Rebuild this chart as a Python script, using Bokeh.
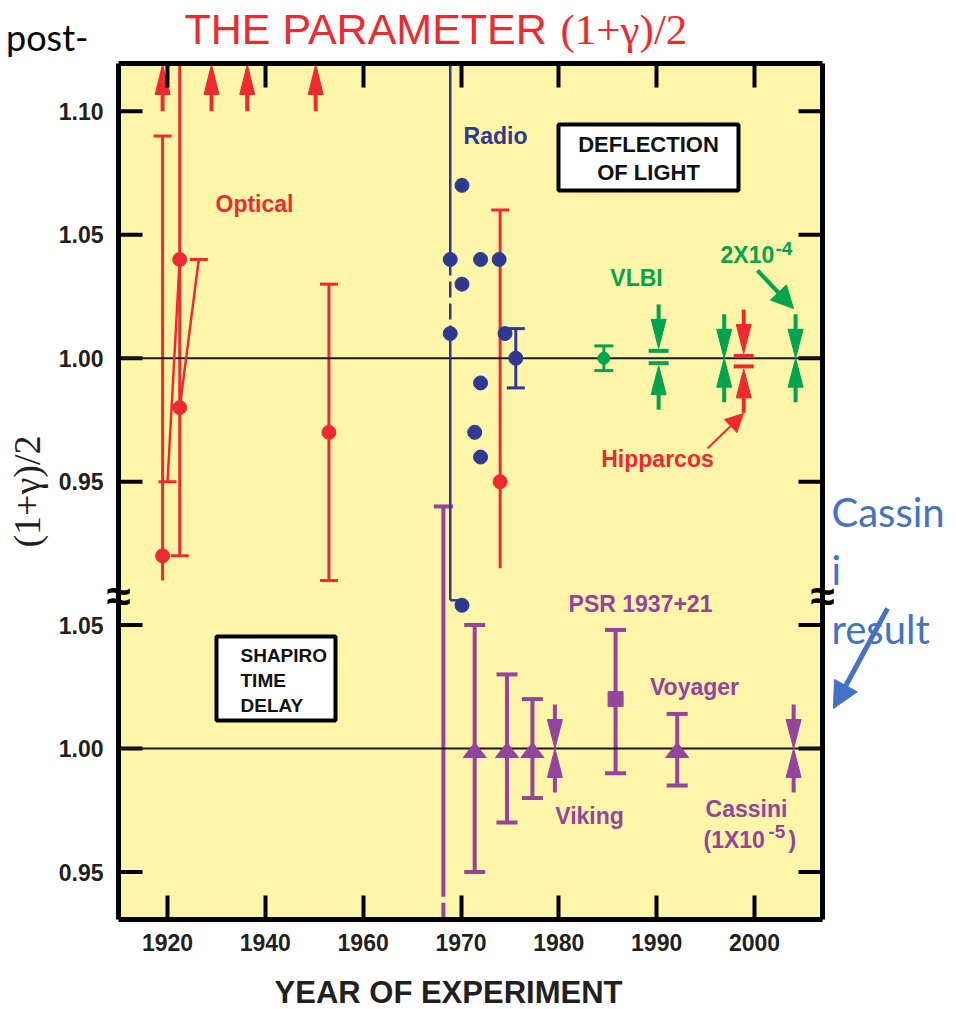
from bokeh.plotting import figure
from bokeh.layouts import column
from bokeh.models import (Range1d, FixedTicker, LinearAxis, Label, Whisker, TeeHead,
                          ColumnDataSource, Arrow, NormalHead, BoxAnnotation, CustomJSTickFormatter)
from bokeh.embed import file_html
from bokeh.resources import INLINE

# ======================= DATA =======================
tick_years = [1920, 1940, 1960, 1970, 1980, 1990, 2000]
tick_year_labels = ["1920", "1940", "1960", "1970", "1980", "1990", "2000"]
top_ticks = [1.10, 1.05, 1.00, 0.95]            # deflection-of-light panel
top_tick_labels = ["1.10", "1.05", "1.00", "0.95"]
bottom_ticks = [1.05, 1.00, 0.95]               # time-delay panel
bottom_tick_labels = ["1.05", "1.00", "0.95"]

# --- Deflection of light: optical (red)
optical_years = [1919.0, 1922.5, 1922.5, 1953.0, 1974.0]
optical_vals = [0.92, 1.04, 0.98, 0.97, 0.95]
optical_bar_years = [1919.0, 1922.5, 1953.0, 1974.0]
optical_bar_lo = [0.91, 0.92, 0.91, 0.915]
optical_bar_hi = [1.09, None, 1.03, 1.06]        # None: runs off the top of the scale
optical_bar_caps = ["upper", "lower", "both", "upper"]
optical_slant_from_year = [1922.5, 1926.4]
optical_slant_from_val = [1.04, 1.04]
optical_slant_to_year = [1920.0, 1922.5]
optical_slant_to_val = [0.95, 0.98]
optical_slant_cap_year = [1920.0, 1926.4]
optical_slant_cap_val = [0.95, 1.04]
optical_offscale_years = [1919.0, 1929.0, 1936.3, 1950.3]   # values above 1.10
optical_offscale_from = 1.10

# --- Deflection of light: radio (blue)
radio_years = [1968.9, 1968.9, 1970.1, 1970.1, 1970.1, 1971.4, 1972.0, 1972.0, 1972.0,
               1973.9, 1974.5, 1975.6]
radio_vals = [1.04, 1.01, 1.07, 1.03, 0.90, 0.97, 1.04, 0.99, 0.96, 1.04, 1.01, 1.00]
radio_bar_years = [1975.6]
radio_bar_lo = [0.988]
radio_bar_hi = [1.012]
radio_range_year = 1968.9          # long bar from off-scale down to 0.90
radio_range_lo = 0.902
radio_range_dashed = (1.01, 1.04)  # dashed part of that bar
radio_range_link_year = 1970.1

# --- VLBI (green)
vlbi_years = [1984.6]
vlbi_vals = [1.00]
vlbi_lo = [0.995]
vlbi_hi = [1.005]
vlbi_arrow_years = [1990.2, 1996.9, 2004.2]
vlbi_arrow_lo = [0.998, 1.000, 1.000]
vlbi_arrow_hi = [1.003, 1.000, 1.000]
vlbi_arrow_bars = [True, False, False]

# --- Hipparcos (red)
hip_years = [1998.9]
hip_lo = [0.9967]
hip_hi = [1.0009]
hip_bars = [True]

# --- Shapiro time delay (purple)
shapiro_years = [1971.4, 1974.7, 1977.3, 1985.8, 1992.1]
shapiro_vals = [1.00, 1.00, 1.00, 1.02, 1.00]
shapiro_lo = [0.95, 0.97, 0.98, 0.99, 0.985]
shapiro_hi = [1.05, 1.03, 1.02, 1.048, 1.014]
shapiro_markers = ["triangle", "triangle", "triangle", "square", "triangle"]
shapiro_arrow_years = [1979.6, 2004.0]
shapiro_arrow_lo = [1.00, 1.00]
shapiro_arrow_hi = [1.00, 1.00]
shapiro_arrow_bars = [False, False]
shapiro_first_year = 1968.2
shapiro_first_hi = 0.94     # read on the deflection-panel scale
shapiro_first_lo = 0.94     # read on the time-delay-panel scale (continues below)

# ======================= LAYOUT / STYLE =======================
W, H = 956, 1009
PLOT_L, PLOT_R, PLOT_T, PLOT_B = 118, 822, 63, 919   # yellow panel on the page
VIEW_L = 103                  # left edge of the drawing area (tick labels end here)
TOP_H = 60                    # title strip
BOT_H = 45                    # x-axis title strip
MID_H = H - TOP_H - BOT_H     # 904

XL, XR = -5.009, 66.95        # plot x units at the panel edges
Y0, Y1 = 0.772773, 1.119332
PANEL_SHIFT = 0.158           # offset of the time-delay panel
KX = (PLOT_R - PLOT_L) / (XR - XL)
KY = (PLOT_B - PLOT_T) / (Y1 - Y0)

YELLOW = "#FFF5A8"
RED = "#EE2A30"
BLUE = "#2E3A92"
GREEN = "#00A34E"
PURPLE = "#93449C"
CBLUE = "#4472C4"
INK = "#231F20"


def xpos(year):
    # compressed 2:1 before 1960
    return (year - 1920.0) / 2.0 if year <= 1960 else 20.0 + (year - 1960.0)


def px2x(px):
    return XL + (px - PLOT_L) / KX


def py2y(py):
    return Y1 - (py - PLOT_T) / KY


p = figure(width=W, height=MID_H, x_range=Range1d(px2x(VIEW_L), px2x(W)),
           y_range=Range1d(Y0, Y1), toolbar_location=None, output_backend="svg",
           min_border_left=VIEW_L, min_border_right=0,
           min_border_top=PLOT_T - TOP_H, min_border_bottom=TOP_H + MID_H - PLOT_B,
           background_fill_color="white", border_fill_color="white", outline_line_color=None)
p.xgrid.visible = False
p.ygrid.visible = False

xt = [xpos(y) for y in tick_years]
yt = list(top_ticks) + [round(v - PANEL_SHIFT, 6) for v in bottom_ticks]
ytl = top_tick_labels + bottom_tick_labels

FMT = """
for (let i = 0; i < tv.length; i++) { if (Math.abs(tv[i] - tick) < 1e-6) return tl[i]; }
return "";
"""


def style_axis(ax, ticks, labels, show, tick_len=24, frame_line=False):
    ax.ticker = FixedTicker(ticks=ticks, minor_ticks=[])
    ax.formatter = CustomJSTickFormatter(
        args=dict(tv=ticks, tl=(labels if show else [""] * len(labels))), code=FMT)
    ax.major_tick_in = tick_len
    ax.major_tick_out = 0
    ax.major_tick_line_width = 4
    ax.major_tick_line_color = "black" if tick_len > 0 else None
    ax.minor_tick_line_color = None
    if frame_line:
        ax.axis_line_color = "black"
        ax.axis_line_width = 5
        ax.bounds = (XL, XR)
    else:
        ax.axis_line_color = None
    ax.major_label_text_font = "Liberation Sans"
    ax.major_label_text_font_style = "bold"
    ax.major_label_text_font_size = "23px" if show else "0px"
    ax.major_label_text_color = INK
    ax.major_label_standoff = 0


# x axes (bottom with labels, top with ticks only); their axis lines are the frame's edges
style_axis(p.xaxis[0], xt, tick_year_labels, True, frame_line=True)
p.xaxis[0].major_label_standoff = 14
ax_top = LinearAxis()
style_axis(ax_top, xt, tick_year_labels, False, frame_line=True)
p.add_layout(ax_top, "above")

# y axis: labels end at the page's x = 103
yax = p.yaxis[0]
style_axis(yax, yt, ytl, True, tick_len=0)
yax.axis_label = "(1+γ)/2"
yax.axis_label_text_font = "Liberation Serif"
yax.axis_label_text_font_style = "normal"
yax.axis_label_text_font_size = "38px"
yax.axis_label_text_color = INK
yax.axis_label_standoff = 8

# yellow panel
p.add_layout(BoxAnnotation(left=px2x(PLOT_L), right=px2x(PLOT_R), top=Y1, bottom=Y0,
                           fill_color=YELLOW, fill_alpha=1.0, line_color=None, level="underlay"))
# inward ticks on the left and right edges of the panel
p.segment([px2x(PLOT_L)] * len(yt), yt, [px2x(PLOT_L + 24)] * len(yt), yt,
          line_color="black", line_width=4)
p.segment([px2x(PLOT_R - 24)] * len(yt), yt, [px2x(PLOT_R)] * len(yt), yt,
          line_color="black", line_width=4)
# reference lines at 1.00 in both panels
p.segment([XL, XL], [1.0, 1.0 - PANEL_SHIFT], [XR, XR], [1.0, 1.0 - PANEL_SHIFT],
          line_color="#1a1a1a", line_width=2)


# ---------- helpers ----------
def whiskers(years, lo, hi, caps, color, lw, cap, shift=0.0):
    groups = {}
    for yr, l, h, c in zip(years, lo, hi, caps):
        hh = Y1 if h is None else h - shift
        groups.setdefault(c, {"x": [], "lo": [], "hi": []})
        groups[c]["x"].append(xpos(yr))
        groups[c]["lo"].append(l - shift)
        groups[c]["hi"].append(hh)
    for c, d in groups.items():
        src = ColumnDataSource(d)
        uh = TeeHead(size=cap, line_color=color, line_width=lw) if c in ("upper", "both") else None
        lh = TeeHead(size=cap, line_color=color, line_width=lw) if c in ("lower", "both") else None
        p.add_layout(Whisker(source=src, base="x", lower="lo", upper="hi", dimension="height",
                             line_color=color, line_width=lw, upper_head=uh, lower_head=lh))


ARROW_LEN, HEAD_LEN, HEAD_W, SHAFT_W, BAR_W, BAR_GAP = 44, 29, 15, 4, 20, 2.5


def arrow_pairs(years, lo, hi, bars, color, shift=0.0):
    sx0, sy0, sx1, sy1, hx, hy, bx0, bx1, by = [], [], [], [], [], [], [], [], []
    L, HL, hw = ARROW_LEN / KY, HEAD_LEN / KY, HEAD_W / 2 / KX
    for yr, l, h, b in zip(years, lo, hi, bars):
        x = xpos(yr)
        yh, yl = h - shift, l - shift
        g = BAR_GAP / KY if b else 0.0
        tt, tb = yh + g, yl - g
        sx0 += [x, x]; sx1 += [x, x]
        sy0 += [tt + L, tb - L]; sy1 += [tt + HL * 0.5, tb - HL * 0.5]
        hx += [[x - hw, x + hw, x], [x - hw, x + hw, x]]
        hy += [[tt + HL, tt + HL, tt], [tb - HL, tb - HL, tb]]
        if b:
            bw = BAR_W / 2 / KX
            bx0 += [x - bw, x - bw]; bx1 += [x + bw, x + bw]; by += [yh, yl]
    p.segment(sx0, sy0, sx1, sy1, line_color=color, line_width=SHAFT_W)
    p.patches(hx, hy, fill_color=color, line_color=color, line_width=1)
    if bx0:
        p.segment(bx0, by, bx1, by, line_color=color, line_width=4)


# ---------- optical (red) ----------
whiskers(optical_bar_years, optical_bar_lo, optical_bar_hi, optical_bar_caps, RED, 3, 18)
p.segment([xpos(y) for y in optical_slant_from_year], optical_slant_from_val,
          [xpos(y) for y in optical_slant_to_year], optical_slant_to_val,
          line_color=RED, line_width=2.5)
cw = 18 / 2 / KX
p.segment([xpos(y) - cw for y in optical_slant_cap_year], optical_slant_cap_val,
          [xpos(y) + cw for y in optical_slant_cap_year], optical_slant_cap_val,
          line_color=RED, line_width=3)
tip = Y1 - 1.0 / KY
hl, hw = 30 / KY, 15 / 2 / KX
ox = [xpos(y) for y in optical_offscale_years]
p.segment(ox, [optical_offscale_from] * len(ox), ox, [tip - hl * 0.5] * len(ox),
          line_color=RED, line_width=4)
p.patches([[x - hw, x + hw, x] for x in ox], [[tip - hl, tip - hl, tip] for _ in ox],
          fill_color=RED, line_color=RED)
p.scatter([xpos(y) for y in optical_years], optical_vals, size=14, color=RED)

# ---------- radio (blue) ----------
rx = xpos(radio_range_year)
d0, d1 = radio_range_dashed
p.segment([rx, rx], [Y1, d0], [rx, rx], [d1, radio_range_lo], line_color=BLUE, line_width=2.5)
p.segment([rx], [d1], [rx], [d0], line_color=BLUE, line_width=2.5, line_dash="16 6")
p.segment([rx], [radio_range_lo], [xpos(radio_range_link_year)], [radio_range_lo],
          line_color=BLUE, line_width=2.5)
whiskers(radio_bar_years, radio_bar_lo, radio_bar_hi, ["both"], BLUE, 3, 18)
p.scatter([xpos(y) for y in radio_years], radio_vals, size=14, color=BLUE)

# ---------- VLBI (green) and Hipparcos (red) ----------
whiskers(vlbi_years, vlbi_lo, vlbi_hi, ["both"], GREEN, 3, 19)
p.scatter([xpos(y) for y in vlbi_years], vlbi_vals, size=12, color=GREEN)
arrow_pairs(vlbi_arrow_years, vlbi_arrow_lo, vlbi_arrow_hi, vlbi_arrow_bars, GREEN)
arrow_pairs(hip_years, hip_lo, hip_hi, hip_bars, RED)

# ---------- Shapiro time delay (purple) ----------
fx = xpos(shapiro_first_year)
first_lo = shapiro_first_lo - PANEL_SHIFT
p.add_layout(Whisker(source=ColumnDataSource(dict(x=[fx], lo=[first_lo], hi=[shapiro_first_hi])),
                     base="x", lower="lo", upper="hi", dimension="height",
                     line_color=PURPLE, line_width=4,
                     upper_head=TeeHead(size=19, line_color=PURPLE, line_width=4), lower_head=None))
p.segment([fx], [first_lo - 6 / KY], [fx], [Y0], line_color=PURPLE, line_width=4)
whiskers(shapiro_years, shapiro_lo, shapiro_hi, ["both"] * len(shapiro_years), PURPLE, 4, 21,
         shift=PANEL_SHIFT)
tri_x, tri_y, sq_x, sq_y = [], [], [], []
for yr, v, m in zip(shapiro_years, shapiro_vals, shapiro_markers):
    x, y = xpos(yr), v - PANEL_SHIFT
    if m == "triangle":
        tri_x.append([x - 11.5 / KX, x + 11.5 / KX, x])
        tri_y.append([y - 9 / KY, y - 9 / KY, y + 6 / KY])
    else:
        sq_x.append(x); sq_y.append(y)
p.patches(tri_x, tri_y, fill_color=PURPLE, line_color=PURPLE)
p.scatter(sq_x, sq_y, marker="square", size=15, color=PURPLE)
arrow_pairs(shapiro_arrow_years, shapiro_arrow_lo, shapiro_arrow_hi, shapiro_arrow_bars, PURPLE,
            shift=PANEL_SHIFT)

# left and right edges of the panel frame (drawn above the data)
p.add_layout(BoxAnnotation(left=px2x(PLOT_L), right=px2x(PLOT_R), top=Y1 + 10 / KY,
                           bottom=Y0 - 10 / KY, fill_alpha=0.0, line_color="black",
                           line_width=5, line_alpha=1.0))


# ---------- boxes ----------
def box(l, r, t, b):
    p.add_layout(BoxAnnotation(left=px2x(l), right=px2x(r), top=py2y(t), bottom=py2y(b),
                               fill_color="white", fill_alpha=1.0, line_color="black",
                               line_width=4, line_alpha=1.0))


box(558, 738, 124, 190)
box(216, 335, 636, 720)


# ---------- labels ----------
def label(fig, text, x, y, color, size, align="center", baseline="middle",
          font="Liberation Sans", style="bold", **kw):
    fig.add_layout(Label(x=x, y=y, text=text, text_color=color, text_font=font,
                         text_font_size=f"{size}px", text_font_style=style, text_align=align,
                         text_baseline=baseline, **kw))


def mlabel(text, px, py, color, size, **kw):
    label(p, text, px2x(px), py2y(py), color, size, **kw)


mlabel("Optical", 254, 203, RED, 23)
mlabel("Radio", 495, 135, BLUE, 23)
mlabel("DEFLECTION\nOF LIGHT", 648, 158, "#111111", 22, text_line_height=1.1)
mlabel("VLBI", 636, 277, GREEN, 23)
mlabel("2X10", 720, 254, GREEN, 23, align="left")
mlabel("-4", 775, 248, GREEN, 19, align="left")
mlabel("Hipparcos", 657, 458, RED, 23)
mlabel("PSR 1937+21", 640, 603, PURPLE, 23)
mlabel("Voyager", 694, 686, PURPLE, 23)
mlabel("Viking", 589, 815, PURPLE, 23)
mlabel("Cassini", 746, 808, PURPLE, 23)
mlabel("(1X10", 703, 839, PURPLE, 23, align="left")
mlabel("-5", 768, 831, PURPLE, 19, align="left")
mlabel(")", 788, 839, PURPLE, 23, align="left")
mlabel("SHAPIRO\nTIME\nDELAY", 240, 680, "#111111", 19, align="left", text_line_height=1.2)

# axis-break marks
BREAK_Y = 595
mlabel("≈", PLOT_L, BREAK_Y, "black", 44)
mlabel("≈", PLOT_R, BREAK_Y, "black", 44)

# Cassini note on the right
for txt, yc in (("Cassin", 511), ("i", 569), ("result", 628)):
    mlabel(txt, 831, yc, CBLUE, 40, align="left", font="Lato", style="normal")


def pointer(x0, y0, x1, y1, color, lw, head):
    p.add_layout(Arrow(x_start=px2x(x0), y_start=py2y(y0), x_end=px2x(x1), y_end=py2y(y1),
                       line_color=color, line_width=lw,
                       end=NormalHead(size=head, fill_color=color, line_color=color)))


pointer(707, 448, 743, 413, RED, 2, 18)
pointer(757, 270, 793, 308, GREEN, 4, 22)
pointer(887, 608, 833, 708, CBLUE, 5, 26)


# ---------- title strip and x-axis title strip (page-pixel coordinates, y downwards) ----------
def strip(h, y_top, left_axis=False):
    f = figure(width=W, height=h, x_range=Range1d(VIEW_L, W), y_range=Range1d(y_top + h, y_top),
               toolbar_location=None, output_backend="svg", min_border=0,
               min_border_left=VIEW_L, min_border_right=0, min_border_top=0, min_border_bottom=0,
               x_axis_location=None, y_axis_location=("left" if left_axis else None),
               outline_line_color=None, background_fill_color="white",
               border_fill_color="white")
    f.xgrid.visible = False
    f.ygrid.visible = False
    return f


top = strip(TOP_H, 0, left_axis=True)
# the word cut at the page's left edge sits left of the drawing area: carry it as the strip's
# only y tick label (kept narrower than the 103 px left margin)
POST_Y = 40
pax = top.yaxis[0]
pax.ticker = FixedTicker(ticks=[POST_Y], minor_ticks=[])
pax.formatter = CustomJSTickFormatter(args=dict(t="post-"), code="return t;")
pax.major_tick_line_color = None
pax.minor_tick_line_color = None
pax.axis_line_color = None
pax.major_tick_in = 0
pax.major_tick_out = 0
pax.major_label_standoff = 15
pax.major_label_text_font = "Lato"
pax.major_label_text_font_size = "36px"
pax.major_label_text_font_style = "normal"
pax.major_label_text_color = "black"

label(top, "THE PARAMETER", 184, 28, RED, 43, align="left", style="normal")
label(top, "(1+γ)/2", 560, 29, RED, 43, align="left", font="Liberation Serif", style="normal")

bottom = strip(BOT_H, H - BOT_H)
label(bottom, "YEAR OF EXPERIMENT", 448, 992, INK, 31)

page = column(top, p, bottom)
open("out.html", "w").write(file_html(page, INLINE))
